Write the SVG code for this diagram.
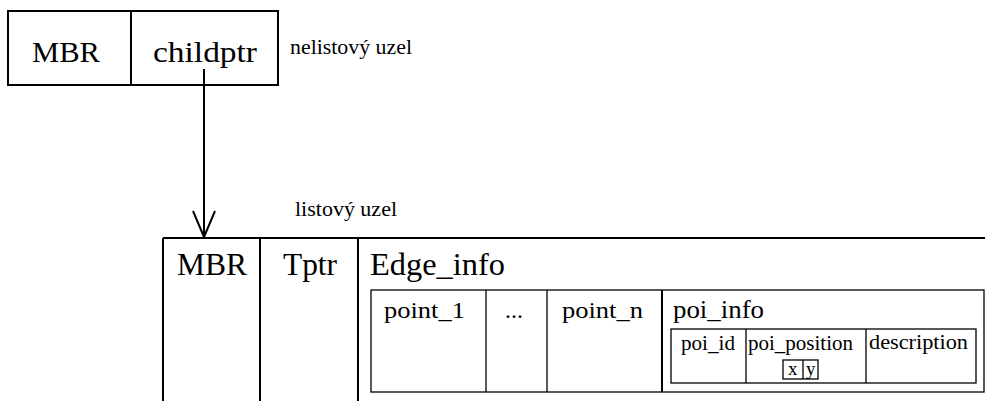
<svg xmlns="http://www.w3.org/2000/svg" width="985" height="401" viewBox="0 0 985 401">
<style>
text{font-family:'Liberation Serif','DejaVu Serif','Noto Serif',serif;fill:#000}
.thick{stroke:#000;stroke-width:2;fill:none}
.thin{stroke:#000;stroke-width:1.3;fill:none}
</style>
<defs>
<marker id="arr" markerUnits="userSpaceOnUse" markerWidth="30" markerHeight="30" viewBox="-2 -14 30 28" refX="26" refY="0" orient="auto">
<path d="M0,-11 L26,0 L0,11" fill="none" stroke="#000" stroke-width="2"/>
</marker>
</defs>
<rect width="985" height="401" fill="#fff"/>
<g id="nonleaf">
<rect x="8" y="11" width="270" height="74" class="thick"/>
<line x1="131" y1="11" x2="131" y2="85" class="thick"/>
<text font-family="Liberation Serif, serif" x="32" y="62" font-size="30" textLength="68" lengthAdjust="spacingAndGlyphs">MBR</text>
<text font-family="Liberation Serif, serif" x="153" y="62" font-size="30" textLength="104" lengthAdjust="spacingAndGlyphs">childptr</text>
<text font-family="Liberation Serif, serif" x="290" y="54" font-size="20" textLength="122" lengthAdjust="spacingAndGlyphs">nelistový uzel</text>
</g>
<g id="connectors">
<line x1="204" y1="69" x2="204" y2="237" class="thick" marker-end="url(#arr)"/>
</g>
<g id="leaf">
<text font-family="Liberation Serif, serif" x="295" y="216" font-size="20" textLength="102" lengthAdjust="spacingAndGlyphs">listový uzel</text>
<line x1="163" y1="238" x2="985" y2="238" class="thick"/>
<line x1="163" y1="238" x2="163" y2="401" class="thick"/>
<line x1="260" y1="238" x2="260" y2="401" class="thick"/>
<line x1="358" y1="238" x2="358" y2="401" class="thick"/>
<text font-family="Liberation Serif, serif" x="177" y="275" font-size="31" textLength="70" lengthAdjust="spacingAndGlyphs">MBR</text>
<text font-family="Liberation Serif, serif" x="283" y="275" font-size="31" textLength="54" lengthAdjust="spacingAndGlyphs">Tptr</text>
<text font-family="Liberation Serif, serif" x="370" y="275" font-size="31" textLength="135" lengthAdjust="spacingAndGlyphs">Edge_info</text>
</g>
<g id="edge_info">
<rect x="371" y="290" width="613" height="102" class="thin"/>
<line x1="486" y1="290" x2="486" y2="392" class="thin"/>
<line x1="547" y1="290" x2="547" y2="392" class="thin"/>
<line x1="662" y1="290" x2="662" y2="392" class="thick"/>
<text font-family="Liberation Serif, serif" x="384" y="318" font-size="24" textLength="81" lengthAdjust="spacingAndGlyphs">point_1</text>
<text font-family="Liberation Serif, serif" x="505" y="318" font-size="24" textLength="18" lengthAdjust="spacingAndGlyphs">...</text>
<text font-family="Liberation Serif, serif" x="562" y="318" font-size="24" textLength="81" lengthAdjust="spacingAndGlyphs">point_n</text>
<text font-family="Liberation Serif, serif" x="673" y="318" font-size="25" textLength="91" lengthAdjust="spacingAndGlyphs">poi_info</text>
</g>
<g id="poi_info">
<rect x="671" y="329" width="305" height="54" class="thin"/>
<line x1="746" y1="329" x2="746" y2="383" class="thin"/>
<line x1="866" y1="329" x2="866" y2="383" class="thin"/>
<text font-family="Liberation Serif, serif" x="681" y="350" font-size="20" textLength="54" lengthAdjust="spacingAndGlyphs">poi_id</text>
<text font-family="Liberation Serif, serif" x="748" y="350" font-size="20" textLength="105" lengthAdjust="spacingAndGlyphs">poi_position</text>
<text font-family="Liberation Serif, serif" x="869" y="349" font-size="20" textLength="99" lengthAdjust="spacingAndGlyphs">description</text>
</g>
<g id="xy">
<rect x="783" y="360" width="35" height="19" class="thin"/>
<line x1="803" y1="360" x2="803" y2="379" class="thin"/>
<text font-family="Liberation Serif, serif" x="788" y="375" font-size="19">x</text>
<text font-family="Liberation Serif, serif" x="806" y="375" font-size="19">y</text>
</g>
</svg>
